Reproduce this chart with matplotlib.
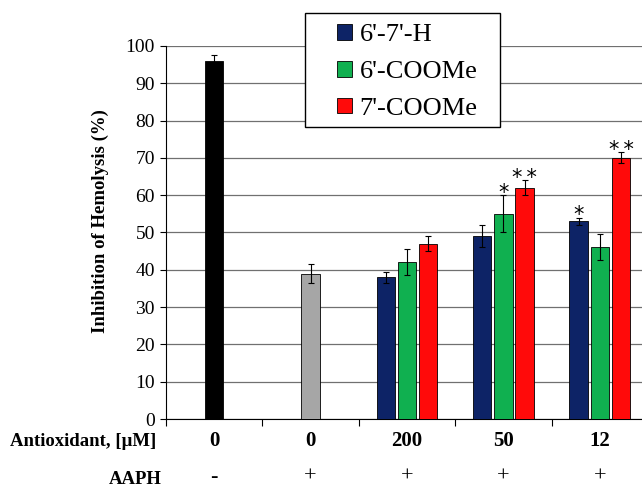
import numpy as np
import matplotlib.pyplot as plt
from matplotlib.patches import Rectangle

# data
groups = ["0", "0", "200", "50", "12"]
aaph = ["-", "+", "+", "+", "+"]
series = ["6'-7'-H", "6'-COOMe", "7'-COOMe"]
colors = ["#0d2366", "#10b050", "#ff0a0a"]

ctrl_vals = [96, 39]
ctrl_err = [1.5, 2.5]
ctrl_colors = ["black", "#a6a6a6"]

h_vals = [38, 49, 53]
h_err = [1.5, 3, 1]
c6_vals = [42, 55, 46]
c6_err = [3.5, 5, 3.5]
c7_vals = [47, 62, 70]
c7_err = [2, 2, 1.5]
stars = [["", "", "*"], ["", "*", ""], ["", "**", "**"]]

plt.rcParams["font.family"] = ["Liberation Serif", "DejaVu Serif"]

fig = plt.figure(figsize=(6.42, 4.88), dpi=100)
ax = fig.add_axes([166 / 642, 1 - 419 / 488, (648 - 166) / 642, (419 - 46) / 488])

w = 0.19
off = 0.22
centers = np.arange(5) + 0.5

ax.bar(centers[:2], ctrl_vals, w, color=ctrl_colors, edgecolor="black", lw=0.6,
       yerr=ctrl_err, capsize=2.5, error_kw=dict(lw=0.8, capthick=0.8), zorder=3)

vals = [h_vals, c6_vals, c7_vals]
errs = [h_err, c6_err, c7_err]
handles = []
for i in range(3):
    x = centers[2:] + (i - 1) * off
    b = ax.bar(x, vals[i], w, color=colors[i], edgecolor="black", lw=0.6,
               yerr=errs[i], capsize=2.5, error_kw=dict(lw=0.8, capthick=0.8),
               zorder=3, label=series[i])
    handles.append(b)
    for xx, v, e, s in zip(x, vals[i], errs[i], stars[i]):
        if s:
            ax.text(xx, v + e + 0.6, s.replace("**", "*\u2009*"), ha="center",
                    va="center", fontsize=15, family="DejaVu Sans")

ax.set_xlim(0, 5)
ax.set_ylim(0, 100)
ax.set_yticks(range(0, 101, 10))
ax.set_xticks(range(0, 6))
ax.set_xticklabels([])
ax.tick_params(axis="y", labelsize=14, direction="out", length=4, pad=4)
ax.tick_params(axis="x", direction="out", length=5)
ax.yaxis.grid(True, color="#707070", lw=0.9)
ax.set_axisbelow(True)
for s in ["top", "right"]:
    ax.spines[s].set_visible(False)
ax.set_ylabel("Inhibition of Hemolysis (%)", fontsize=13.5, fontweight="bold")
ax.yaxis.set_label_coords(-0.118, 0.53)

# row labels below the axis
for c, g, a in zip(centers, groups, aaph):
    xf = (166 + c * (648 - 166) / 5) / 642
    fig.text(xf, 1 - 441 / 488, g, ha="center", va="center", fontsize=15, fontweight="bold")
    fig.text(xf, 1 - 477 / 488, a, ha="center", va="center", fontsize=16)
fig.text(156 / 642, 1 - 441 / 488, "Antioxidant, [μM]", ha="right", va="center",
         fontsize=13.5, fontweight="bold")
fig.text(135 / 642, 0.5 / 488, "AAPH", ha="center", va="bottom",
         fontsize=13.5, fontweight="bold")

# legend box drawn separately so the padding can be uneven like the original
fig.patches.append(Rectangle((305 / 642, 1 - 127 / 488), 195 / 642, 114 / 488,
                             transform=fig.transFigure, facecolor="white",
                             edgecolor="black", lw=1.0, zorder=4))
leg = fig.legend(handles=handles, loc="upper left", bbox_to_anchor=(337 / 642, 1 - 24 / 488),
                 fontsize=19, frameon=False, handlelength=0.55,
                 handleheight=0.55, handletextpad=0.3, labelspacing=0.55,
                 borderpad=0, borderaxespad=0)
leg.set_zorder(5)

fig.savefig("out.png", dpi=100)
